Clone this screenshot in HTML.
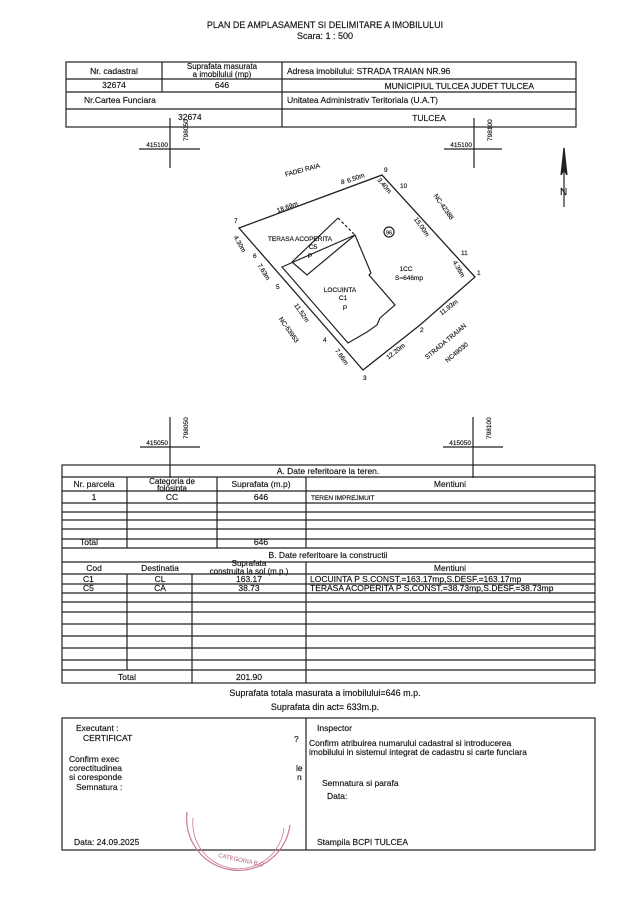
<!DOCTYPE html>
<html><head><meta charset="utf-8"><style>
html,body{margin:0;padding:0;background:#fff}
svg text{font-family:"Liberation Sans",sans-serif;fill:#111;stroke:#111;stroke-width:0.15}
</style></head><body>
<svg width="636" height="900" viewBox="0 0 636 900" xmlns="http://www.w3.org/2000/svg" font-size="8.5">
<g stroke="#222" stroke-width="1.2" fill="none">
<!-- top table -->
<rect x="66" y="62" width="510" height="65"/>
<line x1="66" y1="79" x2="576" y2="79"/>
<line x1="66" y1="92" x2="576" y2="92"/>
<line x1="66" y1="109" x2="576" y2="109"/>
<line x1="162" y1="62" x2="162" y2="92"/>
<line x1="282" y1="62" x2="282" y2="127"/>
<!-- grid crosses top -->
<line x1="170" y1="118" x2="170" y2="168"/><line x1="139" y1="149" x2="200" y2="149"/>
<line x1="474" y1="118" x2="474" y2="168"/><line x1="444" y1="149" x2="502" y2="149"/>
<!-- grid crosses bottom -->
<line x1="170" y1="417" x2="170" y2="478"/><line x1="140" y1="447" x2="200" y2="447"/>
<line x1="473" y1="417" x2="473" y2="478"/><line x1="443" y1="447" x2="503" y2="447"/>
<!-- north -->
<line x1="564" y1="148" x2="564" y2="207"/>
<polygon points="564,148 561,175 564,170 567,175" fill="#222"/>
<!-- parcel -->
<polygon points="239,228 382,175 475,277 420,325 363,370" stroke-width="1.3"/>
<polygon points="282,267 355,235 371,273 369,275 395,305 380,318 377,325 367,332 348,343"/>
<polyline points="292,262 307,275 355,235"/>
<line x1="292" y1="262" x2="338" y2="218"/>
<line x1="338" y1="218" x2="355" y2="235" stroke-dasharray="3,2"/>
<circle cx="389" cy="232" r="5"/>
<!-- lower table -->
<rect x="62" y="465" width="533" height="218"/>
<line x1="62" y1="477" x2="595" y2="477"/>
<line x1="62" y1="491" x2="595" y2="491"/>
<line x1="62" y1="503" x2="595" y2="503"/>
<line x1="62" y1="512" x2="595" y2="512"/>
<line x1="62" y1="520" x2="595" y2="520"/>
<line x1="62" y1="529" x2="595" y2="529"/>
<line x1="62" y1="539" x2="595" y2="539"/>
<line x1="62" y1="548" x2="595" y2="548"/>
<line x1="62" y1="562" x2="595" y2="562"/>
<line x1="62" y1="574" x2="595" y2="574"/>
<line x1="62" y1="584" x2="595" y2="584"/>
<line x1="62" y1="593" x2="595" y2="593"/>
<line x1="62" y1="602" x2="595" y2="602"/>
<line x1="62" y1="612" x2="595" y2="612"/>
<line x1="62" y1="624" x2="595" y2="624"/>
<line x1="62" y1="636" x2="595" y2="636"/>
<line x1="62" y1="648" x2="595" y2="648"/>
<line x1="62" y1="660" x2="595" y2="660"/>
<line x1="62" y1="670" x2="595" y2="670"/>
<line x1="127" y1="477" x2="127" y2="548"/>
<line x1="217" y1="477" x2="217" y2="548"/>
<line x1="306" y1="477" x2="306" y2="548"/>
<line x1="306" y1="562" x2="306" y2="683"/>
<line x1="127" y1="574" x2="127" y2="670"/>
<line x1="192" y1="574" x2="192" y2="683"/>
<!-- bottom box -->
<rect x="62" y="718" width="533" height="132"/>
<line x1="306" y1="718" x2="306" y2="850"/>
</g>
<path d="M187,812 A50,50 0 0 0 290,825" stroke="#c87a95" stroke-width="1.2" fill="none"/>
<path d="M193,818 A44,44 0 0 0 284,828" stroke="#c87a95" stroke-width="0.8" fill="none"/>
<text x="218" y="857" font-size="6" style="fill:#b05a7a;stroke:none" transform="rotate(12 218 857)">CATEGORIA B.C</text>

<text x="325" y="28" text-anchor="middle" font-size="9">PLAN DE AMPLASAMENT SI DELIMITARE A IMOBILULUI</text>
<text x="325" y="39" text-anchor="middle" font-size="9">Scara: 1 : 500</text>
<text x="114" y="74" text-anchor="middle">Nr. cadastral</text>
<text x="222" y="69" text-anchor="middle" font-size="8">Suprafata masurata</text>
<text x="222" y="77" text-anchor="middle" font-size="8">a imobilului (mp)</text>
<text x="287" y="74">Adresa imobilului: STRADA TRAIAN NR.96</text>
<text x="114" y="88" text-anchor="middle">32674</text>
<text x="222" y="88" text-anchor="middle">646</text>
<text x="534" y="89" text-anchor="end">MUNICIPIUL TULCEA JUDET TULCEA</text>
<text x="84" y="103">Nr.Cartea Funciara</text>
<text x="287" y="103">Unitatea Administrativ Teritoriala (U.A.T)</text>
<text x="178" y="120">32674</text>
<text x="429" y="121" text-anchor="middle">TULCEA</text>

<g font-size="6.5">
<text x="168" y="147" text-anchor="end">415100</text>
<text x="172" y="145" transform="rotate(-90 178 135)">798050</text>
<text x="472" y="147" text-anchor="end">415100</text>
<text x="476" y="145" transform="rotate(-90 482 135)">798100</text>
<text x="168" y="445" text-anchor="end">415050</text>
<text x="172" y="443" transform="rotate(-90 178 433)">798050</text>
<text x="471" y="445" text-anchor="end">415050</text>
<text x="475" y="443" transform="rotate(-90 481 433)">798100</text>
</g>
<text x="560" y="195" font-size="10">N</text>

<g font-size="6.5">
<text x="303" y="172" text-anchor="middle" transform="rotate(-15 303 172)">FADEI RAIA</text>
<text x="341" y="184">8</text>
<text x="348" y="183" transform="rotate(-20 348 183)">6.50m</text>
<text x="384" y="172">9</text>
<text x="400" y="188">10</text>
<text x="377" y="180" transform="rotate(50 377 180)">3.40m</text>
<text x="288" y="209" text-anchor="middle" transform="rotate(-20 288 209)">18.69m</text>
<text x="234" y="223">7</text>
<text x="442" y="208" text-anchor="middle" transform="rotate(55 442 208)">NC-42388</text>
<text x="420" y="228" text-anchor="middle" transform="rotate(55 420 228)">15.00m</text>
<text x="389" y="234.5" text-anchor="middle" font-size="5.5">96</text>
<text x="300" y="241" text-anchor="middle">TERASA ACOPERITA</text>
<text x="313" y="249" text-anchor="middle">C5</text>
<text x="310" y="258" text-anchor="middle">P</text>
<text x="238" y="245" text-anchor="middle" transform="rotate(60 238 245)">4.30m</text>
<text x="253" y="258">6</text>
<text x="262" y="273" text-anchor="middle" transform="rotate(58 262 273)">7.63m</text>
<text x="276" y="289">5</text>
<text x="406" y="271" text-anchor="middle">1CC</text>
<text x="409" y="280" text-anchor="middle">S=646mp</text>
<text x="461" y="255">11</text>
<text x="457" y="270" text-anchor="middle" transform="rotate(60 457 270)">4.36m</text>
<text x="477" y="275">1</text>
<text x="340" y="292" text-anchor="middle">LOCUINTA</text>
<text x="343" y="300" text-anchor="middle">C1</text>
<text x="345" y="310" text-anchor="middle">P</text>
<text x="300" y="314" text-anchor="middle" transform="rotate(55 300 314)">11.52m</text>
<text x="287" y="331" text-anchor="middle" transform="rotate(55 287 331)">NC-53953</text>
<text x="323" y="342">4</text>
<text x="340" y="358" text-anchor="middle" transform="rotate(55 340 358)">7.66m</text>
<text x="450" y="309" text-anchor="middle" transform="rotate(-38 450 309)">11.93m</text>
<text x="420" y="332">2</text>
<text x="397" y="353" text-anchor="middle" transform="rotate(-38 397 353)">12.20m</text>
<text x="363" y="380">3</text>
<text x="447" y="343" text-anchor="middle" transform="rotate(-40 447 343)">STRADA TRAIAN</text>
<text x="458" y="354" text-anchor="middle" transform="rotate(-40 458 354)">NC49030</text>
</g>

<text x="328" y="474" text-anchor="middle">A. Date referitoare la teren.</text>
<text x="94" y="487" text-anchor="middle">Nr. parcela</text>
<text x="172" y="484" text-anchor="middle" font-size="8">Categoria de</text>
<text x="172" y="491" text-anchor="middle" font-size="8">folosinta</text>
<text x="261" y="487" text-anchor="middle">Suprafata (m.p)</text>
<text x="450" y="487" text-anchor="middle">Mentiuni</text>
<text x="94" y="500" text-anchor="middle">1</text>
<text x="172" y="500" text-anchor="middle">CC</text>
<text x="261" y="500" text-anchor="middle">646</text>
<text x="311" y="500" font-size="6.5">TEREN IMPREJMUIT</text>
<text x="80" y="545">Total</text>
<text x="261" y="545" text-anchor="middle">646</text>
<text x="328" y="558" text-anchor="middle">B. Date referitoare la constructii</text>
<text x="94" y="571" text-anchor="middle">Cod</text>
<text x="160" y="571" text-anchor="middle">Destinatia</text>
<text x="249" y="566" text-anchor="middle" font-size="8">Suprafata</text>
<text x="249" y="574" text-anchor="middle" font-size="8">construita la sol (m.p.)</text>
<text x="450" y="571" text-anchor="middle">Mentiuni</text>
<text x="83" y="582">C1</text>
<text x="160" y="582" text-anchor="middle">CL</text>
<text x="249" y="582" text-anchor="middle">163.17</text>
<text x="310" y="582">LOCUINTA P   S.CONST.=163.17mp,S.DESF.=163.17mp</text>
<text x="83" y="591">C5</text>
<text x="160" y="591" text-anchor="middle">CA</text>
<text x="249" y="591" text-anchor="middle">38.73</text>
<text x="310" y="591">TERASA ACOPERITA P   S.CONST.=38.73mp,S.DESF.=38.73mp</text>
<text x="127" y="680" text-anchor="middle">Total</text>
<text x="249" y="680" text-anchor="middle">201.90</text>

<text x="325" y="696" text-anchor="middle" font-size="9">Suprafata totala masurata a imobilului=646 m.p.</text>
<text x="325" y="710" text-anchor="middle" font-size="9">Suprafata din act= 633m.p.</text>

<text x="76" y="731">Executant :</text>
<text x="83" y="741">CERTIFICAT</text>
<text x="294" y="742">?</text>
<text x="69" y="762">Confirm exec</text>
<text x="69" y="771">corectitudinea</text>
<text x="69" y="780">si coresponde</text>
<text x="76" y="790">Semnatura :</text>
<text x="296" y="771">le</text>
<text x="297" y="780">n</text>
<text x="74" y="845">Data: 24.09.2025</text>
<text x="317" y="731">Inspector</text>
<text x="309" y="746">Confirm atribuirea numarului cadastral si introducerea</text>
<text x="309" y="755">imobilului in sistemul integrat de cadastru si carte funciara</text>
<text x="322" y="786">Semnatura si parafa</text>
<text x="327" y="799">Data:</text>
<text x="317" y="845">Stampila BCPI TULCEA</text>
</svg>
</body></html>
